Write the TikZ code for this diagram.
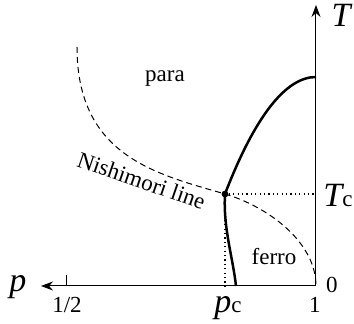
\documentclass[tikz,border=0pt]{standalone}
\usepackage{fontspec}
\setmainfont{Liberation Serif}
\usetikzlibrary{arrows.meta}
\tikzset{
  axis/.style ={-{Stealth[length=6pt,width=4.5pt]},line width=.5pt},
  crit/.style ={line width=1.25pt},
  nish/.style ={line width=.5pt,dash pattern=on 3pt off 2pt},
  guide/.style={line width=.6pt,dash pattern=on .6pt off 1.6pt},
  dot/.style  ={circle,fill=black,inner sep=0pt,minimum size=3.4pt},
  lbl/.style  ={font=\fontsize{11.5}{13}\selectfont,inner sep=0pt},
  big/.style  ={font=\fontsize{17}{19}\selectfont\itshape,inner sep=0pt},
}
\newcommand{\subc}{{\fontsize{11.5}{13}\selectfont\upshape c}}

\begin{document}
\begin{tikzpicture}[x=.5pt,y=.5pt]
  \useasboundingbox (-316,-38) rectangle (38,286);
  % axes
  \coordinate (O) at (0,0);
  \coordinate (Ttop) at (0,281);
  \coordinate (pend) at (-275,0);
  \coordinate (half) at (-249,0);
  \coordinate (halftop) at (-249,11);
  \draw[axis] (O) -- (Ttop);
  \draw[axis] (O) -- (pend);
  \draw[line width=.5pt] (half) -- (halftop);
  % multicritical point
  \node[dot] (D) at (-91,92){};
  \coordinate (Dp) at (-91,0);
  \coordinate (DT) at (0,92);
  \draw[guide] (D) -- (DT);
  \draw[guide] (D) -- (Dp);
  % phase boundary
  \coordinate (Tmax) at (0,209);
  \coordinate (pbot) at (-80,0);
  \draw[crit] (Tmax) .. controls (-30,209) and (-61,170) .. (D.center)
              .. controls (-93,58) and (-83,28) .. (pbot);
  % Nishimori line
  \coordinate (Ntop) at (-239,239);
  \draw[nish] (Ntop) .. controls (-239,130) and (-160,112) .. (D.center)
              .. controls (-50,80) and (0,45) .. (O);
  % labels
  \node[big,anchor=base] (plbl) at (-298,-6){p};
  \node[big,anchor=base] (Tlbl) at (25,259){T};
  \node[big,anchor=base] (Tclbl) at (22,79){T\subc};
  \node[big,anchor=base] (pclbl) at (-88,-27){p\subc};
  \node[lbl,anchor=base] (halflbl) at (-249,-27){1/2};
  \node[lbl,anchor=base] (onelbl) at (-1,-27){1};
  \node[lbl,anchor=base] (zerolbl) at (16,-7){0};
  \node[lbl,anchor=base] (para) at (-151,204){para};
  \node[lbl,anchor=base] (ferro) at (-42,21){ferro};
  \node[lbl,anchor=base,rotate=-19] (nlbl) at (-177,98){Nishimori line};
\end{tikzpicture}
\end{document}
